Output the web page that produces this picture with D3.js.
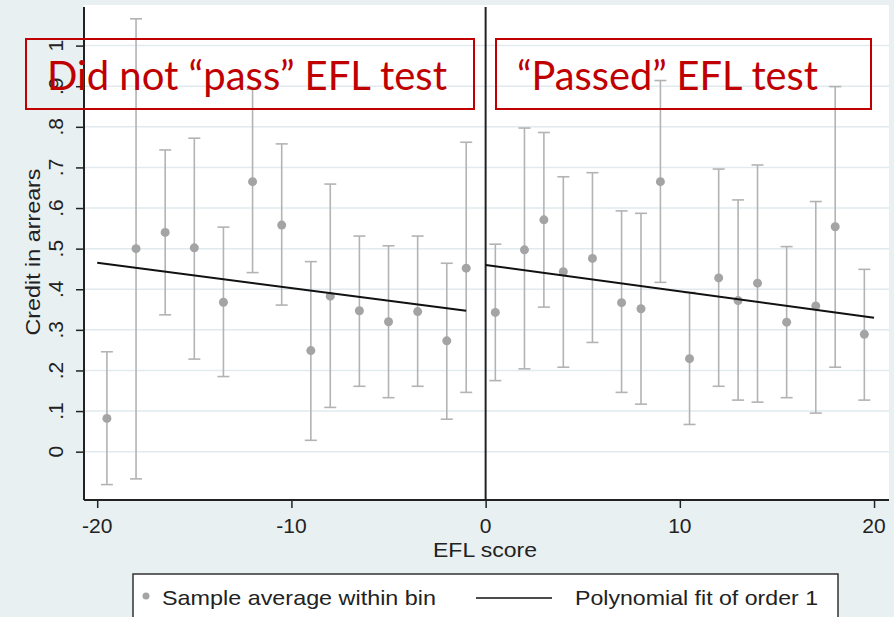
<!DOCTYPE html>
<html lang="en">
<head>
<meta charset="UTF-8">
<title>EFL score RD plot</title>
<style>
  body { margin: 0; background: #e9f0f2; }
  svg { display: block; }
</style>
</head>
<body>
<div id="chart"></div>
<script src="https://cdnjs.cloudflare.com/ajax/libs/d3/7.8.2/d3.min.js"></script>
<script>
// bin centres (EFL score), bin means and 95% CI bounds, below the cutoff
var leftScore = [-19.5, -18, -16.5, -15, -13.5, -12, -10.5, -9, -8, -6.5, -5, -3.5, -2, -1];
var leftMean  = [0.082, 0.500, 0.540, 0.502, 0.368, 0.665, 0.558, 0.249, 0.383, 0.347, 0.320, 0.345, 0.273, 0.452];
var leftHigh  = [0.246, 1.066, 0.743, 0.772, 0.553, 0.893, 0.758, 0.468, 0.659, 0.531, 0.507, 0.531, 0.464, 0.762];
var leftLow   = [-0.081, -0.067, 0.337, 0.228, 0.185, 0.441, 0.361, 0.028, 0.109, 0.161, 0.133, 0.161, 0.080, 0.146];

// above the cutoff
var rightScore = [0.5, 2, 3, 4, 5.5, 7, 8, 9, 10.5, 12, 13, 14, 15.5, 17, 18, 19.5];
var rightMean  = [0.343, 0.497, 0.571, 0.443, 0.476, 0.367, 0.352, 0.665, 0.229, 0.428, 0.372, 0.415, 0.319, 0.359, 0.554, 0.289];
var rightHigh  = [0.511, 0.797, 0.786, 0.677, 0.687, 0.593, 0.587, 0.914, 0.392, 0.696, 0.620, 0.706, 0.505, 0.616, 0.899, 0.449];
var rightLow   = [0.175, 0.204, 0.356, 0.208, 0.269, 0.146, 0.117, 0.417, 0.067, 0.161, 0.127, 0.122, 0.133, 0.095, 0.208, 0.127];

// linear fits: [x0, y0, x1, y1]
var leftFit  = [-20, 0.465, -1, 0.347];
var rightFit = [0, 0.460, 20, 0.330];

var xTicks = [-20, -10, 0, 10, 20];
var yTicks = [0, 0.1, 0.2, 0.3, 0.4, 0.5, 0.6, 0.7, 0.8, 0.9, 1];
var yTickLabels = ["0", ".1", ".2", ".3", ".4", ".5", ".6", ".7", ".8", ".9", "1"];

var panelTitles = ["Did not \u201cpass\u201d EFL test", "\u201cPassed\u201d EFL test"];

var width = 894, height = 617;
var plot = { left: 84, right: 889, top: 5, bottom: 500 };
var axisFont = "'Liberation Sans', Arial, sans-serif";
var grey = "#b3b3b3";

var x = d3.scaleLinear().domain([-20.68, 20.77]).range([plot.left, plot.right]);
var y = d3.scaleLinear().domain([-0.119, 1.1]).range([plot.bottom, plot.top]);

var svg = d3.select("#chart").append("svg")
  .attr("width", width)
  .attr("height", height);

svg.append("rect")
  .attr("width", width).attr("height", height)
  .attr("fill", "#e9f0f2");

svg.append("rect")
  .attr("x", plot.left).attr("y", plot.top)
  .attr("width", plot.right - plot.left).attr("height", plot.bottom - plot.top)
  .attr("fill", "#ffffff");

// horizontal grid
svg.append("g").selectAll("line")
  .data(yTicks)
  .enter().append("line")
  .attr("x1", plot.left).attr("x2", plot.right)
  .attr("y1", function(d) { return y(d); })
  .attr("y2", function(d) { return y(d); })
  .attr("stroke", "#e1eaee")
  .attr("stroke-width", 1.5);

// y axis
var yAxis = svg.append("g")
  .attr("transform", "translate(" + plot.left + ",0)")
  .call(d3.axisLeft(y).tickValues(yTicks).tickSize(8).tickFormat(""));
yAxis.select(".domain").remove();
yAxis.selectAll(".tick line").attr("stroke", "#222").attr("stroke-width", 1.5);

svg.append("line")
  .attr("x1", plot.left).attr("x2", plot.left)
  .attr("y1", 7).attr("y2", plot.bottom)
  .attr("stroke", "#222").attr("stroke-width", 2);

svg.append("g").selectAll("text")
  .data(yTicks)
  .enter().append("text")
  .attr("transform", function(d) { return "translate(63," + y(d) + ") rotate(-90)"; })
  .attr("text-anchor", "middle")
  .attr("font-family", axisFont)
  .attr("font-size", 21)
  .attr("fill", "#222")
  .text(function(d, i) { return yTickLabels[i]; });

svg.append("text")
  .attr("transform", "translate(40,252) rotate(-90)")
  .attr("text-anchor", "middle")
  .attr("font-family", axisFont)
  .attr("font-size", 21)
  .attr("textLength", 167)
  .attr("lengthAdjust", "spacingAndGlyphs")
  .attr("fill", "#222")
  .text("Credit in arrears");

// x axis
var xAxis = svg.append("g")
  .attr("transform", "translate(0," + plot.bottom + ")")
  .call(d3.axisBottom(x).tickValues(xTicks).tickSize(8).tickFormat(""));
xAxis.select(".domain").remove();
xAxis.selectAll(".tick line").attr("stroke", "#222").attr("stroke-width", 1.5);

svg.append("line")
  .attr("x1", plot.left).attr("x2", plot.right)
  .attr("y1", plot.bottom).attr("y2", plot.bottom)
  .attr("stroke", "#222").attr("stroke-width", 2);

svg.append("g").selectAll("text")
  .data(xTicks)
  .enter().append("text")
  .attr("x", function(d) { return x(d); })
  .attr("y", 533)
  .attr("text-anchor", "middle")
  .attr("font-family", axisFont)
  .attr("font-size", 21)
  .attr("fill", "#222")
  .text(function(d) { return d; });

svg.append("text")
  .attr("x", 485).attr("y", 557)
  .attr("text-anchor", "middle")
  .attr("font-family", axisFont)
  .attr("font-size", 21)
  .attr("textLength", 104)
  .attr("lengthAdjust", "spacingAndGlyphs")
  .attr("fill", "#222")
  .text("EFL score");

// cutoff line
svg.append("line")
  .attr("x1", x(0)).attr("x2", x(0))
  .attr("y1", 7).attr("y2", plot.bottom)
  .attr("stroke", "#222").attr("stroke-width", 2);

// bins with CI whiskers
function drawBins(score, mean, low, high) {
  var rows = score.map(function(s, i) {
    return { s: s, m: mean[i], lo: low[i], hi: high[i] };
  });
  var g = svg.append("g");
  var bin = g.selectAll("g").data(rows).enter().append("g");
  bin.append("line")
    .attr("x1", function(d) { return x(d.s); })
    .attr("x2", function(d) { return x(d.s); })
    .attr("y1", function(d) { return y(d.lo); })
    .attr("y2", function(d) { return y(d.hi); })
    .attr("stroke", grey).attr("stroke-width", 1.6);
  ["lo", "hi"].forEach(function(k) {
    bin.append("line")
      .attr("x1", function(d) { return x(d.s) - 6; })
      .attr("x2", function(d) { return x(d.s) + 6; })
      .attr("y1", function(d) { return y(d[k]); })
      .attr("y2", function(d) { return y(d[k]); })
      .attr("stroke", grey).attr("stroke-width", 1.6);
  });
  bin.append("circle")
    .attr("cx", function(d) { return x(d.s); })
    .attr("cy", function(d) { return y(d.m); })
    .attr("r", 4.5)
    .attr("fill", "#a4a4a4");
}
drawBins(leftScore, leftMean, leftLow, leftHigh);
drawBins(rightScore, rightMean, rightLow, rightHigh);

// fitted lines
[leftFit, rightFit].forEach(function(f) {
  svg.append("line")
    .attr("x1", x(f[0])).attr("y1", y(f[1]))
    .attr("x2", x(f[2])).attr("y2", y(f[3]))
    .attr("stroke", "#111").attr("stroke-width", 2);
});

// red annotation boxes
var boxes = [
  { x0: 26, x1: 474, tx: 47, tw: 400 },
  { x0: 496, x1: 871, tx: 517, tw: 301 }
];
boxes.forEach(function(b, i) {
  svg.append("rect")
    .attr("x", b.x0).attr("y", 39)
    .attr("width", b.x1 - b.x0).attr("height", 70)
    .attr("fill", "none")
    .attr("stroke", "#c00000")
    .attr("stroke-width", 2);
  svg.append("text")
    .attr("x", b.tx).attr("y", 90)
    .attr("font-family", "Lato, 'Open Sans', sans-serif")
    .attr("font-size", 40)
    .attr("textLength", b.tw)
    .attr("lengthAdjust", "spacingAndGlyphs")
    .attr("fill", "#c00000")
    .text(panelTitles[i]);
});

// legend
var legend = svg.append("g");
legend.append("rect")
  .attr("x", 133).attr("y", 574)
  .attr("width", 705).attr("height", 60)
  .attr("fill", "#ffffff")
  .attr("stroke", "#333")
  .attr("stroke-width", 1.5);
legend.append("circle")
  .attr("cx", 146).attr("cy", 596).attr("r", 3.5)
  .attr("fill", "#a4a4a4");
legend.append("text")
  .attr("x", 162).attr("y", 605)
  .attr("font-family", axisFont)
  .attr("font-size", 21)
  .attr("textLength", 274)
  .attr("lengthAdjust", "spacingAndGlyphs")
  .attr("fill", "#222")
  .text("Sample average within bin");
legend.append("line")
  .attr("x1", 476).attr("x2", 552)
  .attr("y1", 598).attr("y2", 598)
  .attr("stroke", "#111").attr("stroke-width", 1.6);
legend.append("text")
  .attr("x", 575).attr("y", 605)
  .attr("font-family", axisFont)
  .attr("font-size", 21)
  .attr("textLength", 243)
  .attr("lengthAdjust", "spacingAndGlyphs")
  .attr("fill", "#222")
  .text("Polynomial fit of order 1");
</script>
</body>
</html>
